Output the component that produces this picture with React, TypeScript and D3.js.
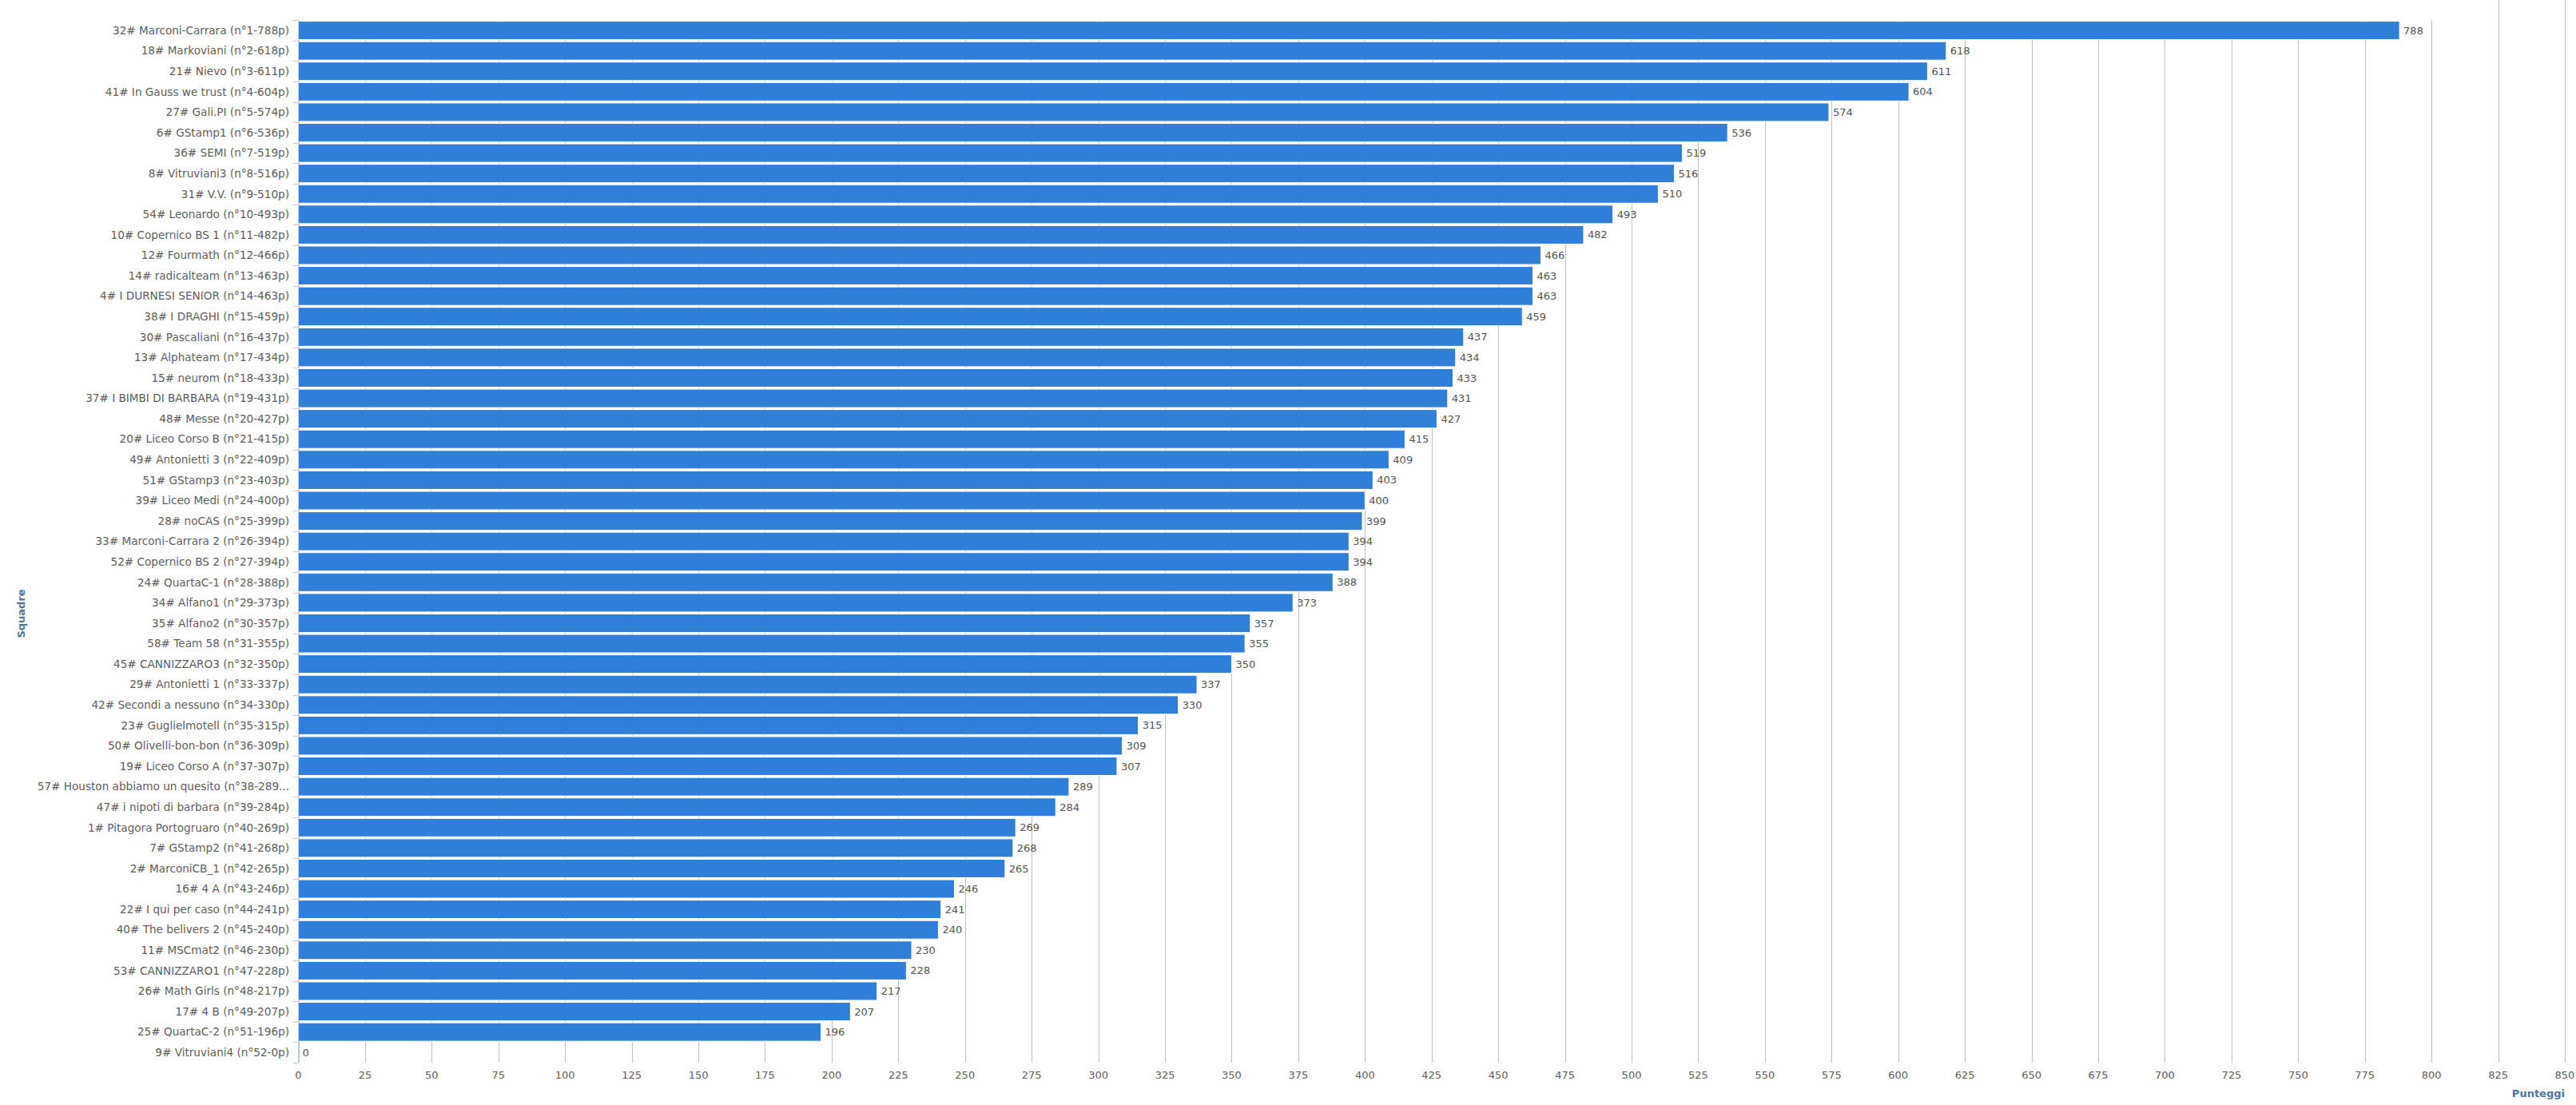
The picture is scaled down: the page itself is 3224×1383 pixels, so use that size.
import React from "react";
import * as d3 from "d3";

const categories: string[] = [
  "32# Marconi-Carrara (n°1-788p)",
  "18# Markoviani (n°2-618p)",
  "21# Nievo (n°3-611p)",
  "41# In Gauss we trust (n°4-604p)",
  "27# Gali.PI (n°5-574p)",
  "6# GStamp1 (n°6-536p)",
  "36# SEMI (n°7-519p)",
  "8# Vitruviani3 (n°8-516p)",
  "31# V.V. (n°9-510p)",
  "54# Leonardo (n°10-493p)",
  "10# Copernico BS 1 (n°11-482p)",
  "12# Fourmath (n°12-466p)",
  "14# radicalteam (n°13-463p)",
  "4# I DURNESI SENIOR (n°14-463p)",
  "38# I DRAGHI (n°15-459p)",
  "30# Pascaliani (n°16-437p)",
  "13# Alphateam (n°17-434p)",
  "15# neurom (n°18-433p)",
  "37# I BIMBI DI BARBARA (n°19-431p)",
  "48# Messe (n°20-427p)",
  "20# Liceo Corso B (n°21-415p)",
  "49# Antonietti 3 (n°22-409p)",
  "51# GStamp3 (n°23-403p)",
  "39# Liceo Medi (n°24-400p)",
  "28# noCAS (n°25-399p)",
  "33# Marconi-Carrara 2 (n°26-394p)",
  "52# Copernico BS 2 (n°27-394p)",
  "24# QuartaC-1 (n°28-388p)",
  "34# Alfano1 (n°29-373p)",
  "35# Alfano2 (n°30-357p)",
  "58# Team 58 (n°31-355p)",
  "45# CANNIZZARO3 (n°32-350p)",
  "29# Antonietti 1 (n°33-337p)",
  "42# Secondi a nessuno (n°34-330p)",
  "23# Guglielmotell (n°35-315p)",
  "50# Olivelli-bon-bon (n°36-309p)",
  "19# Liceo Corso A (n°37-307p)",
  "57# Houston abbiamo un quesito (n°38-289...",
  "47# i nipoti di barbara (n°39-284p)",
  "1# Pitagora Portogruaro (n°40-269p)",
  "7# GStamp2 (n°41-268p)",
  "2# MarconiCB_1 (n°42-265p)",
  "16# 4 A (n°43-246p)",
  "22# I qui per caso (n°44-241p)",
  "40# The belivers 2 (n°45-240p)",
  "11# MSCmat2 (n°46-230p)",
  "53# CANNIZZARO1 (n°47-228p)",
  "26# Math Girls (n°48-217p)",
  "17# 4 B (n°49-207p)",
  "25# QuartaC-2 (n°51-196p)",
  "9# Vitruviani4 (n°52-0p)",
];

const scores: number[] = [
  788, 618, 611, 604, 574, 536, 519, 516, 510, 493, 482, 466, 463, 463, 459,
  437, 434, 433, 431, 427, 415, 409, 403, 400, 399, 394, 394, 388, 373, 357,
  355, 350, 337, 330, 315, 309, 307, 289, 284, 269, 268, 265, 246, 241, 240,
  230, 228, 217, 207, 196, 0,
];

const xTicks: number[] = d3.range(0, 851, 25);
const xAxisTitle = "Punteggi";
const yAxisTitle = "Squadre";

const W = 3224;
const H = 1383;
const plotLeft = 373.5;
const plotRight = 3210;
const plotTop = 25.3;
const plotBottom = 1330;

const FONT = "'DejaVu Sans', Verdana, sans-serif";

export default function App() {
  const x = d3.scaleLinear().domain([0, 850]).range([plotLeft, plotRight]);
  const y = d3
    .scaleBand<string>()
    .domain(categories)
    .range([plotTop, plotBottom])
    .paddingInner(0.1)
    .paddingOuter(0.05);
  const step = y.step();
  const bandStarts = categories.map((c) => (y(c) as number) - step * 0.05);

  return (
    <svg
      width={W}
      height={H}
      style={{ position: "absolute", left: 0, top: 0, background: "#fff" }}
      fontFamily={FONT}
    >
      <rect x={0} y={0} width={W} height={H} fill="#fff" />
      {/* grid lines */}
      {xTicks.map((t) => (
        <line
          key={"g" + t}
          x1={Math.round(x(t)) + 0.5}
          x2={Math.round(x(t)) + 0.5}
          y1={t >= 825 ? 0 : plotTop}
          y2={plotBottom}
          stroke="#C0C0C0"
          strokeWidth={1}
        />
      ))}
      {/* bars */}
      {categories.map((c, i) => (
        <rect
          key={"b" + i}
          x={x(0)}
          y={y(c) as number}
          width={Math.max(0, x(scores[i]) - x(0))}
          height={y.bandwidth()}
          fill="#2f7ed8"
          stroke="#ffffff"
          strokeWidth={scores[i] > 0 ? 1 : 0}
        />
      ))}
      {/* y axis line */}
      <line
        x1={plotLeft}
        x2={plotLeft}
        y1={plotTop}
        y2={plotBottom}
        stroke="#C0D0E0"
        strokeWidth={1}
      />
      {/* y ticks */}
      {[...bandStarts, plotBottom].map((yy, i) => (
        <line
          key={"t" + i}
          x1={plotLeft - 7}
          x2={plotLeft}
          y1={Math.round(yy) + 0.5}
          y2={Math.round(yy) + 0.5}
          stroke="#C0D0E0"
          strokeWidth={1}
        />
      ))}
      {/* category labels */}
      {categories.map((c, i) => (
        <text
          key={"l" + i}
          x={362}
          y={(y(c) as number) + y.bandwidth() / 2}
          dy="0.35em"
          textAnchor="end"
          fontSize={13.6}
          fill="#606060"
        >
          {c}
        </text>
      ))}
      {/* data labels */}
      {categories.map((c, i) => (
        <text
          key={"d" + i}
          x={x(scores[i]) + 5}
          y={(y(c) as number) + y.bandwidth() / 2}
          dy="0.35em"
          fontSize={13}
          fill="#555"
        >
          {scores[i]}
        </text>
      ))}
      {/* x tick labels */}
      {xTicks.map((t) => (
        <text
          key={"x" + t}
          x={x(t)}
          y={1345}
          dy="0.35em"
          textAnchor="middle"
          fontSize={13}
          fill="#606060"
        >
          {t}
        </text>
      ))}
      <text
        x={plotRight}
        y={1368}
        dy="0.35em"
        textAnchor="end"
        fontSize={13}
        fontWeight="bold"
        fill="#4d759e"
      >
        {xAxisTitle}
      </text>
      <text
        transform={`translate(26, 768) rotate(-90)`}
        textAnchor="middle"
        dy="0.35em"
        fontSize={13}
        fontWeight="bold"
        fill="#4d759e"
      >
        {yAxisTitle}
      </text>
    </svg>
  );
}
